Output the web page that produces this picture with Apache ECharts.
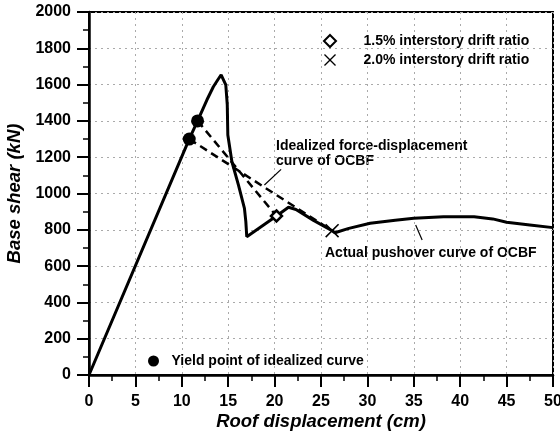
<!DOCTYPE html>
<html>
<head>
<meta charset="utf-8">
<script src="https://cdn.jsdelivr.net/npm/echarts@6/dist/echarts.min.js"></script>
<style>
  html, body { margin: 0; padding: 0; background: #fff; }
  #chart { width: 560px; height: 431px; }
</style>
</head>
<body>
<div id="chart"></div>
<script>
// Pushover analysis of the OCBF: roof displacement (cm) vs base shear (kN)

// Axis ticks
const xTicks = [0, 5, 10, 15, 20, 25, 30, 35, 40, 45, 50];
const yTicks = [0, 200, 400, 600, 800, 1000, 1200, 1400, 1600, 1800, 2000];

// Actual pushover curve
const pushoverDisp = [0, 10.8, 11.7, 12.7, 13.4, 13.9, 14.24, 14.74, 14.9, 14.96, 15.4, 16.1, 16.75, 16.9, 17.0,
  20.2, 21.5, 22.3, 24.2, 26.2, 26.5, 28.0, 30.3, 33.0, 35.0, 38.2, 41.5, 43.5, 45.0, 47.5, 50.0];
const pushoverShear = [0, 1300, 1400, 1515, 1588, 1628, 1653, 1598, 1488, 1322, 1175, 1047, 918, 845, 762,
  876, 924, 912, 852, 795, 784, 808, 836, 853, 863, 872, 872, 860, 842, 827, 812];

// Idealized (bilinear) force-displacement curves
const idealLowDisp = [10.8, 26.2];
const idealLowShear = [1300, 795];
const idealHighDisp = [11.7, 20.2];
const idealHighShear = [1400, 876];

// Yield points of the idealized curves
const yieldDisp = [10.8, 11.7];
const yieldShear = [1300, 1400];

// Interstory drift ratio markers
const drift15Disp = [20.2];
const drift15Shear = [876];
const drift20Disp = [26.2];
const drift20Shear = [795];

const zip = (xs, ys) => xs.map((x, i) => [x, ys[i]]);

const FONT = '"Liberation Sans", Arial, Helvetica, sans-serif';
const diamondPath = 'path://M5,0 L10,5 L5,10 L0,5 Z';
const crossPath = 'path://M0,0.8 L0.8,0 L5,4.2 L9.2,0 L10,0.8 L5.8,5 L10,9.2 L9.2,10 L5,5.8 L0.8,10 L0,9.2 L4.2,5 Z';

const chart = echarts.init(document.getElementById('chart'), null, { renderer: 'canvas' });

const axisCommon = {
  type: 'value',
  axisLine: { show: true, onZero: false, lineStyle: { color: '#000', width: 2.5 } },
  axisTick: { show: true, inside: false, length: 12, lineStyle: { color: '#000', width: 2 } },
  minorTick: { show: true, splitNumber: 2, length: 6, lineStyle: { color: '#000', width: 1.5 } },
  axisLabel: { color: '#000', fontFamily: FONT, fontWeight: 'bold', fontSize: 16, formatter: v => String(v) },
  splitLine: { show: true, lineStyle: { color: '#aaa', width: 1, type: [2, 4] } },
  nameLocation: 'middle',
  nameMoveOverlap: false,
  nameTextStyle: { color: '#000', fontFamily: FONT, fontWeight: 'bold', fontStyle: 'italic', fontSize: 18.5 }
};

const legendText = { color: '#000', fontFamily: FONT, fontWeight: 'bold', fontSize: 14 };

chart.setOption({
  animation: false,
  backgroundColor: '#fff',
  grid: {
    left: 89, right: 7, top: 12, bottom: 56, containLabel: false, outerBoundsMode: 'none',
    show: true, borderColor: '#000', borderWidth: 2, backgroundColor: 'transparent'
  },
  xAxis: Object.assign({}, axisCommon, {
    min: xTicks[0], max: xTicks[xTicks.length - 1], interval: xTicks[1] - xTicks[0],
    name: 'Roof displacement (cm)', nameGap: 37,
    axisLabel: Object.assign({}, axisCommon.axisLabel, { margin: 19 })
  }),
  yAxis: Object.assign({}, axisCommon, {
    min: yTicks[0], max: yTicks[yTicks.length - 1], interval: yTicks[1] - yTicks[0],
    name: 'Base shear (kN)', nameGap: 65, nameRotate: 90,
    axisLabel: Object.assign({}, axisCommon.axisLabel, { margin: 18 })
  }),
  legend: [
    {
      data: ['1.5% interstory drift ratio', '2.0% interstory drift ratio'],
      orient: 'vertical', left: 323, top: 34, padding: 0, symbolKeepAspect: true,
      itemWidth: 57, itemHeight: 12, itemGap: 5, selectedMode: false,
      textStyle: legendText
    },
    {
      data: ['Yield point of idealized curve'],
      left: 148, top: 354, padding: 0, symbolKeepAspect: true,
      itemWidth: 26, itemHeight: 11, selectedMode: false,
      textStyle: legendText
    }
  ],
  series: [
    {
      name: 'Actual pushover curve', type: 'line', data: zip(pushoverDisp, pushoverShear),
      symbol: 'none', lineStyle: { color: '#000', width: 3 }, z: 3,
      markLine: {
        silent: true, animation: false,
        symbol: ['none', 'arrow'], symbolSize: [0, 7],
        lineStyle: { color: '#000', width: 1.2, type: 'solid' },
        label: { show: false },
        data: [
          [{ coord: [20.7, 1133] }, { coord: [18.9, 1047] }],
          [{ coord: [35.9, 744] }, { coord: [35.2, 826] }]
        ]
      }
    },
    {
      name: 'Idealized low', type: 'line', data: zip(idealLowDisp, idealLowShear),
      symbol: 'none', lineStyle: { color: '#000', width: 2.5, type: [8, 5] }, z: 2
    },
    {
      name: 'Idealized high', type: 'line', data: zip(idealHighDisp, idealHighShear),
      symbol: 'none', lineStyle: { color: '#000', width: 2.5, type: [8, 5] }, z: 2
    },
    {
      name: 'Yield point of idealized curve', type: 'scatter', data: zip(yieldDisp, yieldShear),
      symbol: 'circle', symbolSize: 13, itemStyle: { color: '#000', opacity: 1 }, z: 5
    },
    {
      name: '1.5% interstory drift ratio', type: 'scatter', data: zip(drift15Disp, drift15Shear),
      symbol: diamondPath, symbolSize: 11,
      itemStyle: { color: '#fff', borderColor: '#000', borderWidth: 2.5, opacity: 1 }, z: 5
    },
    {
      name: '2.0% interstory drift ratio', type: 'scatter', data: zip(drift20Disp, drift20Shear),
      symbol: crossPath, symbolSize: 14, itemStyle: { color: '#000', opacity: 1 }, z: 5
    }
  ],
  graphic: [
    {
      type: 'text', left: 276, top: 139,
      style: {
        text: 'Idealized force-displacement\ncurve of OCBF',
        fill: '#000', font: 'bold 14px ' + FONT, lineHeight: 15
      }
    },
    {
      type: 'text', left: 325, top: 246,
      style: { text: 'Actual pushover curve of OCBF', fill: '#000', font: 'bold 14px ' + FONT }
    }
  ]
});
</script>
</body>
</html>
